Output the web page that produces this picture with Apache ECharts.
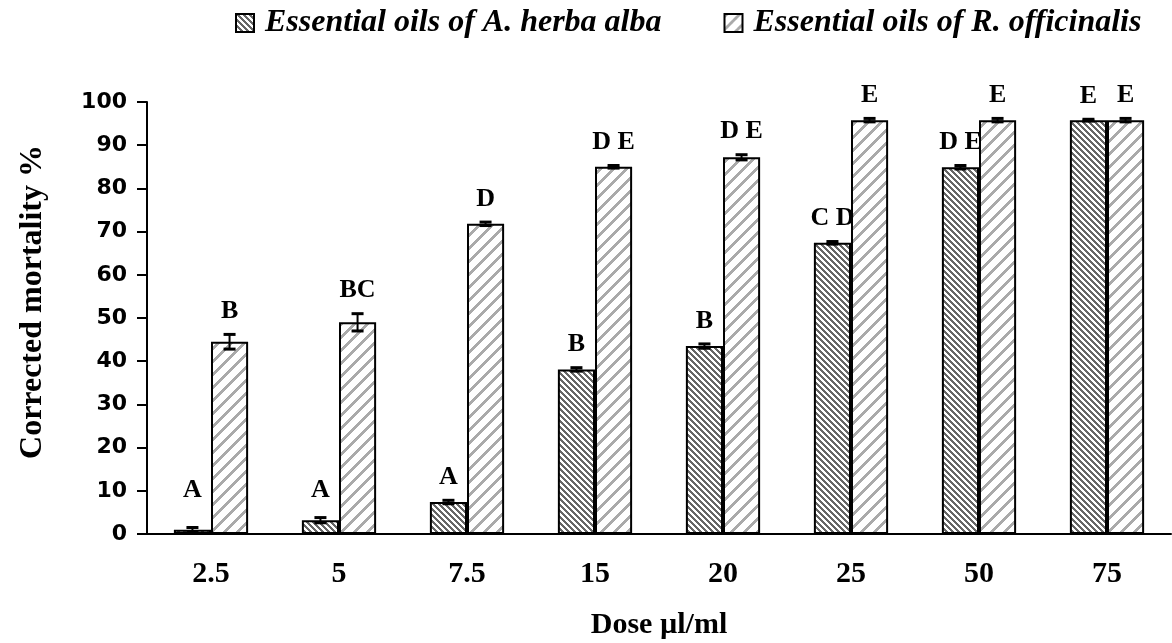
<!DOCTYPE html>
<html>
<head>
<meta charset="utf-8">
<script src="https://cdn.jsdelivr.net/npm/echarts@6/dist/echarts.min.js"></script>
<style>
  html, body { margin: 0; padding: 0; background: #fff; }
  #chart { width: 1172px; height: 643px; }
</style>
</head>
<body>
<div id="chart"></div>
<script>
// Dose levels (µl/ml)
const doses = ['2.5', '5', '7.5', '15', '20', '25', '50', '75'];

// Corrected mortality (%) and standard errors
const herbaAlba = [1.0, 3.2, 7.4, 38.1, 43.5, 67.4, 84.9, 95.8];
const herbaAlbaErr = [0.5, 0.6, 0.4, 0.4, 0.5, 0.3, 0.4, 0.2];
const officinalis = [44.5, 49.0, 71.8, 85.0, 87.2, 95.8, 95.8, 95.8];
const officinalisErr = [1.7, 2.0, 0.4, 0.3, 0.6, 0.4, 0.4, 0.4];

// Significance letters
const herbaAlbaLetters = ['A', 'A', 'A', 'B', 'B', 'C D', 'D E', 'E'];
const officinalisLetters = ['B', 'BC', 'D', 'D E', 'D E', 'E', 'E', 'E'];

const seriesNames = ['Essential oils of A. herba alba', 'Essential oils of R. officinalis'];

// Hatch fills drawn pixel by pixel for crisp diagonal stripes
function stripeTile(size, width, color, dir) {
  const c = document.createElement('canvas');
  c.width = size; c.height = size;
  const ctx = c.getContext('2d');
  ctx.fillStyle = '#fff';
  ctx.fillRect(0, 0, size, size);
  ctx.fillStyle = color;
  for (let y = 0; y < size; y++) {
    for (let x = 0; x < size; x++) {
      const k = dir > 0 ? (x + y) : (x - y);
      if (((k % size) + size) % size < width) ctx.fillRect(x, y, 1, 1);
    }
  }
  return c;
}
const densePattern = { image: stripeTile(6, 3, '#666666', -1), repeat: 'repeat' };
const widePattern = { image: stripeTile(13, 4, '#aaaaaa', 1), repeat: 'repeat' };

const BAR_FRAC = 0.29;
const serif = '"Liberation Serif", "Times New Roman", serif';

// Error bars plus letter annotations for one series
function annotations(values, errs, letters, side) {
  return {
    type: 'custom',
    silent: true,
    z: 5,
    data: values.map((v, i) => [i, v, errs[i], letters[i]]),
    encode: { x: 0, y: 1 },
    renderItem: function (params, api) {
      const idx = api.value(0);
      const v = api.value(1);
      const e = api.value(2);
      const letter = letters[idx];
      const band = api.size([1, 0])[0];
      const bw = band * BAR_FRAC;
      const base = api.coord([idx, v]);
      const cx = base[0] + side * bw / 2;
      const hi = api.coord([idx, v + e])[1];
      const lo = api.coord([idx, v - e])[1];
      const floorY = api.coord([idx, 7.2])[1];
      const labelBottom = Math.min(hi - 10, floorY);
      const cap = 6;
      const ls = { stroke: '#000', lineWidth: 2 };
      const cs = { stroke: '#000', lineWidth: 3 };
      return {
        type: 'group',
        children: [
          { type: 'line', shape: { x1: cx, y1: hi, x2: cx, y2: lo }, style: ls },
          { type: 'line', shape: { x1: cx - cap, y1: hi, x2: cx + cap, y2: hi }, style: cs },
          { type: 'line', shape: { x1: cx - cap, y1: lo, x2: cx + cap, y2: lo }, style: cs },
          {
            type: 'text',
            style: {
              text: letter, x: cx, y: labelBottom,
              align: 'center', verticalAlign: 'bottom',
              font: 'bold 26px ' + serif, fill: '#000'
            }
          }
        ]
      };
    }
  };
}

const chart = echarts.init(document.getElementById('chart'));
chart.setOption({
  animation: false,
  backgroundColor: '#fff',
  legend: {
    left: 230,
    top: 2,
    icon: 'rect',
    itemWidth: 18,
    itemHeight: 18,
    itemGap: 62,
    data: seriesNames,
    textStyle: {
      fontFamily: serif, fontWeight: 'bold', fontStyle: 'italic',
      fontSize: 32, color: '#000', padding: [0, 0, 0, 6]
    },
    itemStyle: { borderColor: '#000', borderWidth: 2 }
  },
  grid: { left: 147, right: 1, top: 102, bottom: 109, outerBoundsMode: 'none' },
  xAxis: {
    type: 'category',
    data: doses,
    name: 'Dose µl/ml',
    nameLocation: 'middle',
    nameGap: 76,
    nameTextStyle: { fontFamily: serif, fontWeight: 'bold', fontSize: 30, color: '#000' },
    axisLine: { lineStyle: { color: '#000', width: 2 } },
    axisTick: { length: 13, lineStyle: { color: '#000', width: 2 } },
    axisLabel: { margin: 25, fontFamily: serif, fontWeight: 'bold', fontSize: 30, color: '#000' }
  },
  yAxis: {
    type: 'value',
    min: 0, max: 100, interval: 10,
    name: 'Corrected mortality %',
    nameLocation: 'middle',
    nameGap: 98,
    nameTextStyle: {
      fontFamily: serif, fontWeight: 'bold', fontSize: 32, color: '#000',
      padding: [0, 0, 0, 32]
    },
    splitLine: { show: false },
    axisLine: { show: true, lineStyle: { color: '#000', width: 2 } },
    axisTick: { show: true, length: 10, lineStyle: { color: '#000', width: 2 } },
    axisLabel: { margin: 20, fontFamily: '"DejaVu Sans", sans-serif', fontWeight: 'bold', fontSize: 22, color: '#000' }
  },
  series: [
    {
      name: seriesNames[0], type: 'bar', data: herbaAlba,
      barWidth: (BAR_FRAC * 100) + '%', barGap: '0%',
      itemStyle: { color: densePattern, borderColor: '#000', borderWidth: 2 }
    },
    {
      name: seriesNames[1], type: 'bar', data: officinalis,
      barWidth: (BAR_FRAC * 100) + '%', barGap: '0%',
      itemStyle: { color: widePattern, borderColor: '#000', borderWidth: 2 }
    },
    annotations(herbaAlba, herbaAlbaErr, herbaAlbaLetters, -1),
    annotations(officinalis, officinalisErr, officinalisLetters, 1)
  ]
});
</script>
</body>
</html>
